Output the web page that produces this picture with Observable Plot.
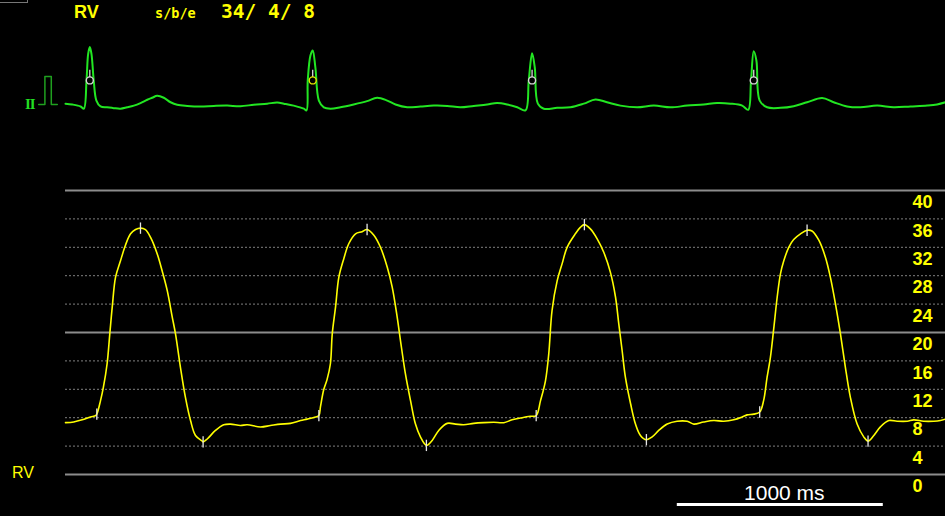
<!DOCTYPE html>
<html>
<head>
<meta charset="utf-8">
<script src="https://cdn.jsdelivr.net/npm/d3@7"></script>
<script src="https://cdn.jsdelivr.net/npm/@observablehq/plot@0.6"></script>
<style>
  html, body { margin: 0; padding: 0; background: #000; }
  #wrap { position: relative; width: 945px; height: 516px; background: #000; overflow: hidden; }
  #wrap svg { position: absolute; left: 0; top: 0; }
  .lbl { position: absolute; white-space: pre; line-height: 1; }
</style>
</head>
<body>
<div id="wrap"></div>
<script>
// ---------------- DATA ----------------
// Header values
const channelName = "RV";
const headerKey = "s/b/e";
const headerValues = "34/ 4/ 8";
const leadName = "II";

// Time axis (ms) shown across the strip, and the scale bar
const timeSpan = [0, 4272];
const scaleBar = {start: 2970, length: 1000, label: "1000 ms"};

// Pressure axis ticks (mmHg)
const pressureTicks = [0, 4, 8, 12, 16, 20, 24, 28, 32, 36, 40];
const majorTicks = [0, 20, 40];

// RV pressure trace (time ms, pressure mmHg)
const rvTime = [
  0, 40, 81, 121, 146, 152, 170, 184, 202, 215, 227, 243, 267, 291, 316, 340, 364, 388, 413, 445,
  469, 494, 518, 534, 558, 582, 607, 631, 664, 668, 688, 728, 768, 801, 849, 882, 947, 995, 1044, 1092,
  1141, 1173, 1214, 1230, 1238, 1254, 1270, 1286, 1295, 1311, 1327, 1351, 1375, 1408, 1440, 1464, 1497, 1529, 1562, 1586,
  1610, 1626, 1650, 1675, 1699, 1723, 1752, 1780, 1812, 1853, 1893, 1933, 1982, 2030, 2079, 2128, 2168, 2217, 2257, 2285,
  2306, 2330, 2346, 2362, 2387, 2411, 2435, 2475, 2499, 2519, 2548, 2581, 2613, 2645, 2670, 2686, 2702, 2718, 2743, 2767,
  2791, 2820, 2848, 2880, 2921, 2969, 3018, 3050, 3098, 3147, 3195, 3244, 3285, 3309, 3341, 3370, 3389, 3406, 3422, 3438,
  3455, 3471, 3487, 3511, 3535, 3568, 3600, 3624, 3657, 3689, 3713, 3738, 3762, 3786, 3810, 3843, 3875, 3896, 3924, 3956,
  3997, 4037, 4086, 4118, 4166, 4215, 4247, 4272
];
const rvPressure = [
  7.3, 7.4, 7.7, 8.1, 8.3, 8.5, 10.4, 12.3, 15.6, 19.8, 23.6, 27.8, 30.1, 32.3, 33.9, 34.5, 34.7, 34.5, 33.4, 31.1,
  28.7, 25.9, 22.2, 19.8, 15.1, 10.9, 7.6, 5.5, 4.7, 4.6, 5.0, 6.2, 7.0, 7.1, 6.9, 7.0, 6.7, 6.9, 7.1, 7.2,
  7.6, 7.8, 8.1, 8.3, 9.6, 12.0, 13.4, 15.6, 19.8, 23.6, 27.8, 30.4, 32.5, 33.9, 34.2, 34.5, 33.7, 32.0, 29.2, 26.4,
  22.2, 18.9, 14.2, 10.4, 7.1, 5.3, 4.1, 4.8, 6.2, 7.2, 7.1, 7.0, 7.2, 7.3, 7.35, 7.3, 7.7, 8.0, 8.2, 8.3,
  10.4, 13.2, 17.0, 23.1, 27.3, 29.7, 32.0, 33.9, 34.8, 35.2, 34.6, 33.2, 31.3, 28.5, 25.0, 21.2, 17.5, 13.7, 10.0, 7.1,
  5.5, 4.9, 5.3, 6.2, 7.1, 7.5, 7.5, 7.1, 7.4, 7.6, 7.5, 7.7, 8.1, 8.4, 8.5, 8.8, 10.4, 13.7, 16.5, 20.5,
  25.0, 28.3, 30.1, 32.0, 33.1, 33.9, 34.4, 34.3, 33.0, 30.6, 27.8, 24.0, 19.8, 15.1, 10.9, 7.1, 5.3, 4.7, 5.5, 6.7,
  7.6, 7.5, 7.5, 7.7, 7.5, 7.5, 7.6, 7.8
];

// Detected pressure events: systolic peak, minimum, end-diastolic
const peakTime = [364, 1464, 2519, 3600];
const peakValue = [34.7, 34.5, 35.2, 34.4];
const minTime = [668, 1752, 2820, 3896];
const minValue = [4.6, 4.1, 4.9, 4.7];
const edpTime = [152, 1230, 2285, 3370];
const edpValue = [8.5, 8.3, 8.3, 8.8];

// ECG lead II (time ms, mV)
const ecgTime = [
  0, 33, 73, 89, 102, 110, 118, 126, 137, 150, 170, 202, 234, 267, 299, 332, 364, 397, 421, 445,
  477, 510, 542, 591, 655, 720, 785, 849, 914, 979, 1028, 1060, 1108, 1157, 1170, 1176, 1189, 1200, 1213, 1230,
  1254, 1286, 1335, 1399, 1464, 1513, 1562, 1602, 1659, 1723, 1788, 1853, 1917, 1982, 2047, 2095, 2144, 2193, 2233, 2249,
  2265, 2278, 2293, 2322, 2387, 2451, 2516, 2573, 2629, 2694, 2775, 2856, 2937, 3018, 3098, 3163, 3228, 3285, 3314, 3328,
  3341, 3354, 3370, 3406, 3471, 3535, 3600, 3673, 3729, 3794, 3859, 3940, 4020, 4102, 4183, 4231, 4272
];
const ecgVoltage = [
  0.03, 0, -0.07, -0.15, 0.86, 1.81, 2.05, 1.81, 0.86, 0.14, -0.07, -0.10, -0.13, -0.15, -0.10, -0.04, 0.05, 0.17, 0.24, 0.31,
  0.24, 0.08, -0.01, -0.05, -0.07, -0.05, -0.04, -0.06, -0.01, 0.03, 0.07, 0.03, -0.04, -0.15, -0.21, 0.86, 1.75, 1.93, 1.33, 0.14,
  -0.10, -0.15, -0.10, 0, 0.12, 0.24, 0.14, 0, -0.10, -0.07, -0.04, -0.05, -0.10, -0.05, 0, 0.05, 0, -0.10, -0.21, 0.86,
  1.83, 1.33, 0.03, -0.15, -0.12, -0.10, 0.03, 0.18, 0.08, -0.04, -0.10, -0.04, -0.10, -0.04, 0, 0.05, 0.03, -0.04, -0.19, 0.86,
  1.90, 1.57, 0.14, -0.10, -0.12, -0.06, 0.08, 0.23, 0.08, -0.07, -0.10, -0.04, -0.10, -0.07, -0.04, 0, 0.08
];
// R-wave detection markers
const rMarkTime = [118, 1200, 2265, 3341];
const rMarkLevel = 0.86;
const selectedBeat = 1;

// 1 mV calibration pulse (time ms relative to strip start, mV)
const calTime = [-130, -100, -100, -69, -69, -40];
const calVoltage = [0, 0, 1, 1, 0, 0];

// ---------------- BUILD ----------------
const rv = rvTime.map((t, i) => ({t, v: rvPressure[i]}));
const ecg = ecgTime.map((t, i) => ({t, v: ecgVoltage[i]}));
const cal = calTime.map((t, i) => ({t, v: calVoltage[i]}));
const events = [
  ...peakTime.map((t, i) => ({t, v: peakValue[i]})),
  ...minTime.map((t, i) => ({t, v: minValue[i]})),
  ...edpTime.map((t, i) => ({t, v: edpValue[i]}))
];
const rMarks = rMarkTime.map((t, i) => ({t, v: rMarkLevel, sel: i === selectedBeat}));
const minorTicks = pressureTicks.filter(d => !majorTicks.includes(d));

const wrap = document.getElementById("wrap");

const pressurePlot = Plot.plot({
  width: 945, height: 516,
  marginTop: 190, marginBottom: 42, marginLeft: 65, marginRight: 0,
  style: {background: "transparent", color: "white", overflow: "visible"},
  x: {domain: timeSpan, axis: null},
  y: {domain: [0, 40], axis: null},
  marks: [
    Plot.ruleY(minorTicks, {stroke: "#808080", strokeWidth: 1, strokeDasharray: "2,2"}),
    Plot.ruleY(majorTicks, {stroke: "#8c8c8c", strokeWidth: 2}),
    Plot.text(pressureTicks, {y: d => d, text: d => String(d), frameAnchor: "right", dx: -33, dy: 12,
      textAnchor: "start", fill: "#ffff00", fontSize: 18, fontWeight: "bold", fontFamily: "Liberation Sans, Arial, sans-serif"}),
    Plot.line(rv, {x: "t", y: "v", stroke: "#ffff00", strokeWidth: 1.6, curve: "catmull-rom"}),
    Plot.link(events, {x1: "t", x2: "t", y1: d => d.v - 0.8, y2: d => d.v + 0.8, stroke: "#e6e6e6", strokeWidth: 1.3}),
    Plot.ruleY([0], {x1: scaleBar.start, x2: scaleBar.start + scaleBar.length, dy: 30, stroke: "white", strokeWidth: 3}),
    Plot.text([scaleBar], {x: d => d.start + d.length / 2, y: () => 0, text: "label", dy: 19, dx: 4,
      fill: "white", fontSize: 21, fontFamily: "Liberation Sans, Arial, sans-serif"})
  ]
});
wrap.appendChild(pressurePlot);

const ecgPlot = Plot.plot({
  width: 945, height: 130,
  marginTop: 34, marginBottom: 12, marginLeft: 65, marginRight: 0,
  style: {background: "transparent", color: "white", overflow: "visible"},
  x: {domain: timeSpan, axis: null},
  y: {domain: [-0.5, 2.5], axis: null},
  marks: [
    Plot.line(cal, {x: "t", y: "v", stroke: "#1fa01f", strokeWidth: 1.5}),
    Plot.line(ecg, {x: "t", y: "v", stroke: "#22e622", strokeWidth: 2, curve: "catmull-rom"}),
    Plot.link(rMarks, {x1: "t", x2: "t", y1: d => d.v + 0.12, y2: d => d.v + 0.38, stroke: "#d8d8d8", strokeWidth: 1.3}),
    Plot.dot(rMarks, {x: "t", y: "v", r: 3.5, fill: "black", stroke: d => d.sel ? "#e6e600" : "#d8d8d8", strokeWidth: 1.4})
  ]
});
wrap.appendChild(ecgPlot);

// Static labels
function label(text, css) {
  const d = document.createElement("div");
  d.className = "lbl";
  d.textContent = text;
  Object.assign(d.style, css);
  wrap.appendChild(d);
}
label(channelName, {left: "74px", top: "3px", fontSize: "18px", fontWeight: "bold", color: "#ffff00", fontFamily: "Liberation Sans, Arial, sans-serif"});
label(headerKey, {left: "155px", top: "7px", fontSize: "13.5px", fontWeight: "bold", color: "#ffff00", fontFamily: "DejaVu Sans Mono, monospace"});
label(headerValues, {left: "221px", top: "2px", fontSize: "19.5px", fontWeight: "bold", color: "#ffff00", fontFamily: "DejaVu Sans Mono, monospace"});
label(leadName, {left: "25px", top: "97px", fontSize: "15px", fontWeight: "bold", color: "#22dd22", fontFamily: "Liberation Serif, serif", letterSpacing: "-1px"});
label(channelName, {left: "12px", top: "465px", fontSize: "16px", color: "#ffff00", fontFamily: "Liberation Sans, Arial, sans-serif"});
// small window-frame artifact at top-left
const frag = document.createElement("div");
Object.assign(frag.style, {position: "absolute", left: "0px", top: "0px", width: "27px", height: "2px", borderRight: "1px solid #777", borderBottom: "1px solid #777"});
wrap.appendChild(frag);
</script>
</body>
</html>
